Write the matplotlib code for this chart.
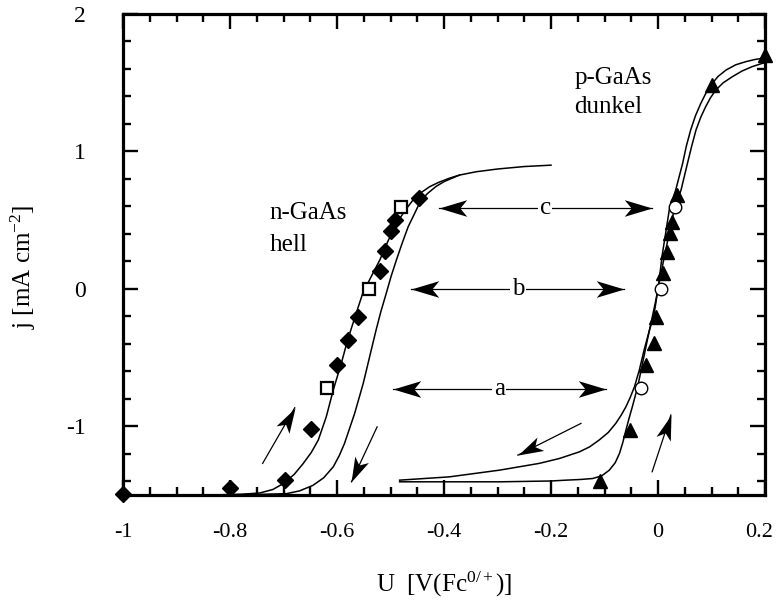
import numpy as np
import matplotlib
matplotlib.use('Agg')
import matplotlib.pyplot as plt
from matplotlib.path import Path
from matplotlib.markers import MarkerStyle
from matplotlib.transforms import Affine2D, ScaledTranslation
from matplotlib.ticker import MultipleLocator

plt.rcParams['font.family'] = 'serif'
plt.rcParams['font.serif'] = ['Liberation Serif']
plt.rcParams['mathtext.fontset'] = 'custom'
plt.rcParams['mathtext.rm'] = 'Liberation Serif'
plt.rcParams['mathtext.it'] = 'Liberation Serif:italic'
plt.rcParams['axes.unicode_minus'] = False

### n-GaAs (hell): fitted curves, forward and reverse scan
nfw_x = [-0.84, -0.78, -0.744, -0.72, -0.70, -0.68, -0.663, -0.648, -0.635, -0.620, -0.607,
         -0.592, -0.580, -0.566, -0.552, -0.536, -0.520, -0.505, -0.489, -0.47, -0.458,
         -0.443, -0.427, -0.41, -0.39, -0.371, -0.34, -0.30, -0.25, -0.20]
nfw_y = [-1.50, -1.495, -1.485, -1.46, -1.416, -1.35, -1.27, -1.19, -1.10, -0.93, -0.736,
         -0.542, -0.37, -0.20, -0.033, 0.09, 0.21, 0.345, 0.477, 0.585, 0.646,
         0.70, 0.743, 0.775, 0.805, 0.828, 0.852, 0.872, 0.89, 0.90]
nrv_x = [-0.84, -0.74, -0.694, -0.67, -0.645, -0.625, -0.607, -0.596, -0.586, -0.567,
         -0.551, -0.536, -0.527, -0.518, -0.508, -0.499, -0.489, -0.478, -0.467, -0.456,
         -0.446, -0.432, -0.415, -0.40, -0.385, -0.371]
nrv_y = [-1.50, -1.495, -1.49, -1.47, -1.43, -1.375, -1.295, -1.215, -1.125, -0.906,
         -0.688, -0.445, -0.30, -0.165, -0.033, 0.09, 0.21, 0.335, 0.452, 0.54,
         0.622, 0.69, 0.745, 0.78, 0.805, 0.828]
# n-GaAs measured points
ndia_x = [-1.0, -0.8, -0.698, -0.649, -0.60, -0.579, -0.560, -0.520, -0.511, -0.500, -0.492, -0.446]
ndia_y = [-1.49, -1.45, -1.39, -1.02, -0.555, -0.37, -0.203, 0.132, 0.277, 0.423, 0.50, 0.659]
nsq_x = [-0.618, -0.540, -0.480]
nsq_y = [-0.72, 0.0, 0.597]

### p-GaAs (dunkel)
prv_x = [0.20, 0.195, 0.18, 0.164, 0.145, 0.127, 0.112, 0.099, 0.089, 0.080, 0.070, 0.061,
         0.053, 0.046, 0.033, 0.021, 0.008, 0.0, -0.008, -0.016, -0.026, -0.035, -0.044,
         -0.052, -0.060, -0.069, -0.079, -0.093, -0.110, -0.128, -0.147, -0.184, -0.222,
         -0.296, -0.390, -0.483]
prv_y = [1.68, 1.678, 1.668, 1.653, 1.63, 1.592, 1.545, 1.483, 1.42, 1.35, 1.26, 1.156,
         1.04, 0.913, 0.719, 0.574, 0.25, 0.0, -0.2, -0.30, -0.445, -0.591, -0.712,
         -0.79, -0.858, -0.92, -0.979, -1.045, -1.10, -1.15, -1.186, -1.234, -1.27,
         -1.319, -1.368, -1.392]
pfw_x = [-0.483, -0.296, -0.20, -0.172, -0.145, -0.122, -0.105, -0.091, -0.080, -0.072,
         -0.066, -0.060, -0.054, -0.048, -0.038, -0.029, -0.020, -0.005, 0.010, 0.030,
         0.043, 0.055, 0.063, 0.071, 0.080, 0.089, 0.098, 0.108, 0.122, 0.139, 0.157,
         0.176, 0.195, 0.20]
pfw_y = [-1.404, -1.404, -1.398, -1.392, -1.387, -1.38, -1.36, -1.319, -1.265, -1.197,
         -1.12, -1.028, -0.94, -0.858, -0.712, -0.542, -0.373, -0.1, 0.2, 0.574,
         0.719, 0.913, 1.04, 1.156, 1.25, 1.325, 1.39, 1.447, 1.50, 1.544, 1.585,
         1.617, 1.641, 1.645]
ptri_x = [-0.108, -0.053, -0.022, -0.008, -0.003, 0.010, 0.016, 0.023, 0.026, 0.035, 0.100, 0.200]
ptri_y = [-1.40, -1.03, -0.555, -0.397, -0.207, 0.117, 0.27, 0.41, 0.49, 0.683, 1.48, 1.70]
pcir_x = [-0.032, 0.005, 0.032]
pcir_y = [-0.724, 0.0, 0.593]

# double arrows a, b, c : (x left, x right, y, label)
dbl_labels = ['a', 'b', 'c']
dbl_xl = [-0.496, -0.461, -0.410]
dbl_xr = [-0.097, -0.063, -0.012]
dbl_y = [-0.73, 0.0, 0.59]
# scan direction arrows (start -> end)
arr_x0 = [-0.739, -0.525, -0.144, -0.011]
arr_y0 = [-1.27, -1.004, -0.979, -1.331]
arr_x1 = [-0.679, -0.573, -0.262, 0.024]
arr_y1 = [-0.865, -1.404, -1.21, -0.918]

fig = plt.figure(figsize=(7.77, 6.03), dpi=100)
ax = fig.add_axes([0.1583, 0.1791, 0.8263, 0.7977])
ax.set_xlim(-1, 0.2)
ax.set_ylim(-1.5, 2)

lw = 1.1
ax.plot(nfw_x, nfw_y, 'k-', lw=lw)
ax.plot(nrv_x, nrv_y, 'k-', lw=lw)
ax.plot(prv_x, prv_y, 'k-', lw=lw)
ax.plot(pfw_x, pfw_y, 'k-', lw=lw)

ax.plot(ndia_x, ndia_y, 'D', color='k', ms=8.5, clip_on=False, zorder=5)
ax.plot(nsq_x, nsq_y, 's', mfc='w', mec='k', mew=1.6, ms=9, zorder=5)
ax.plot(ptri_x, ptri_y, '^', color='k', ms=9.5, clip_on=False, zorder=5)
ax.plot(pcir_x, pcir_y, 'o', mfc='w', mec='k', mew=1.0, ms=9, zorder=6)

# stealth-like arrow head, tip at origin pointing +x
head = Path([(0, 0), (-1, 0.3), (-0.75, 0), (-1, -0.3), (0, 0)],
            [Path.MOVETO, Path.LINETO, Path.LINETO, Path.LINETO, Path.CLOSEPOLY])


def arrowhead(x0, y0, x1, y1, ms):
    p0 = ax.transData.transform((x0, y0))
    p1 = ax.transData.transform((x1, y1))
    ang = np.degrees(np.arctan2(p1[1] - p0[1], p1[0] - p0[0]))
    m = MarkerStyle(head, transform=Affine2D().rotate_deg(ang))
    ax.plot([x1], [y1], marker=m, color='k', ms=ms, mew=0, zorder=4)


for xl, xr, y, lab in zip(dbl_xl, dbl_xr, dbl_y, dbl_labels):
    ax.plot([xl, xr], [y, y], 'k-', lw=0.9)
    arrowhead(xr, y, xl, y, 40)
    arrowhead(xl, y, xr, y, 40)
    ax.text((xl + xr) / 2, y, lab, fontsize=18, ha='center', va='center',
            bbox=dict(facecolor='w', edgecolor='none', pad=1), zorder=3)

for x0, y0, x1, y1 in zip(arr_x0, arr_y0, arr_x1, arr_y1):
    ax.plot([x0, x1], [y0, y1], 'k-', lw=0.9)
    arrowhead(x0, y0, x1, y1, 36)

ax.text(-0.726, 0.552, 'n-GaAs', fontsize=18, ha='left', va='center')
ax.text(-0.726, 0.319, 'hell', fontsize=18, ha='left', va='center')
ax.text(-0.156, 1.534, 'p-GaAs', fontsize=18, ha='left', va='center')
ax.text(-0.156, 1.323, 'dunkel', fontsize=18, ha='left', va='center')

ax.xaxis.set_minor_locator(MultipleLocator(0.05))
ax.yaxis.set_minor_locator(MultipleLocator(0.2))
ax.set_xticks([-1, -0.8, -0.6, -0.4, -0.2, 0, 0.2])
ax.set_xticklabels(['-1', '-0.8', '-0.6', '-0.4', '-0.2', '0', '0.2'])
ax.set_yticks([-1, 0, 1, 2])
ax.set_yticklabels(['-1', '0', '1', '2'])
ax.set_xlim(-1, 0.2)
ax.set_ylim(-1.5, 2)

ax.tick_params(which='both', direction='in', top=True, right=True, width=1.7)
ax.tick_params(which='major', length=10.5)
ax.tick_params(which='minor', length=6)
ax.tick_params(axis='x', which='major', labelsize=16, pad=20)
ax.tick_params(axis='y', which='major', labelsize=17, pad=27)
for s in ax.spines.values():
    s.set_linewidth(2.3)

# keep the last x tick label inside the figure
last = ax.get_xticklabels()[-1]
last.set_transform(last.get_transform() + ScaledTranslation(-4 / 72, 0, fig.dpi_scale_trans))

ax.set_xlabel(r'U  [V(Fc$^{0/+}$)]', fontsize=18)
ax.set_ylabel(r'j [mA cm$^{-2}$]', fontsize=18)
ax.xaxis.set_label_coords(0.5, -0.155)
ax.yaxis.set_label_coords(-0.132, 0.474)

fig.savefig('out.png', dpi=100)
